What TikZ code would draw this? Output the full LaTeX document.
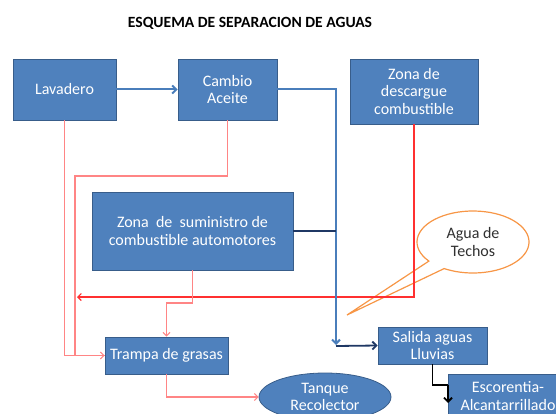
\documentclass[tikz,border=0pt]{standalone}
\usepackage{fontspec}
\setmainfont{Carlito}
\usetikzlibrary{arrows.meta,shapes.geometric,calc}
\definecolor{boxfill}{HTML}{4F81BD}
\definecolor{boxline}{HTML}{385D8A}
\definecolor{flowblue}{HTML}{4A7EBB}
\definecolor{navyline}{HTML}{1F3864}
\definecolor{lightred}{HTML}{FF8585}
\definecolor{brightred}{HTML}{FF3030}
\definecolor{calloutorange}{HTML}{F79646}
\definecolor{txtgray}{HTML}{303030}
\begin{document}
\begin{tikzpicture}[x=1pt,y=-1pt,
  box/.style={draw=boxline, line width=0.8pt, fill=boxfill, text=white,
    font=\fontsize{16}{17.5}\selectfont, align=center, inner sep=0pt},
  redflow/.style={draw=lightred, line width=1.1pt},
  redstrong/.style={draw=brightred, line width=1.1pt},
  blueflow/.style={draw=flowblue, line width=2pt},
  navyflow/.style={draw=navyline, line width=1.8pt},
  blackflow/.style={draw=black, line width=1.8pt},
  thintip/.style={-{Straight Barb[length=3.5pt,width=7pt]}},
  thicktip/.style={-{Straight Barb[length=4pt,width=8pt]}}
]
\useasboundingbox (0,0) rectangle (556,414);
\clip (0,0) rectangle (556,414);

\node[font=\bfseries\fontsize{15.6}{18}\selectfont] (title) at (250,23) {ESQUEMA DE SEPARACION DE AGUAS};

\node[box, minimum width=103pt, minimum height=61pt] (lav) at (64.5,89.5) {Lavadero};
\node[box, minimum width=99pt, minimum height=61pt] (cambio) at (227.5,89.5) {Cambio\\Aceite};
\node[box, minimum width=128pt, minimum height=65pt] (desc) at (414,91.5) {Zona de\\descargue\\combustible};
\node[box, minimum width=201pt, minimum height=78pt] (sum) at (192.5,231) {Zona~ de~ suministro de\\combustible automotores};
\node[box, minimum width=123pt, minimum height=37pt] (trampa) at (166.5,355.5) {Trampa de grasas};
\node[box, minimum width=109pt, minimum height=37pt] (salida) at (432.5,345.5) {Salida aguas\\Lluvias};
\node[box, minimum width=120pt, minimum height=44pt] (esc) at (508,396) {Escorentia-\\Alcantarrillado};
\node[box, ellipse, minimum width=132pt, minimum height=48pt] (tanque) at (325,397) {Tanque\\Recolector};

% callout
\draw[draw=calloutorange, line width=1.2pt, fill=white]
  (347,315) -- ($(473,242)+(142:56 and 31)$) arc[start angle=142, end angle=481, x radius=56, y radius=31] -- cycle;
\node[text=txtgray, font=\fontsize{16}{17.5}\selectfont, align=center] (techos) at (473,242) {Agua de\\Techos};

% coordinates for bends
\coordinate (c1) at (75,176);
\coordinate (c2) at (77,297);
\coordinate (s1) at (166.5,303);
\coordinate (b1) at (336,345);
\coordinate (b2) at (336,346);
\coordinate (k1) at (448,385);
\coordinate (k2) at (448,403);

% red flows
\draw[redflow, thintip] (lav.south) |- (trampa.west);
\draw[redflow] (cambio.south) |- (c1) |- (trampa.west);
\draw[redstrong, thintip] (desc.south) |- (c2);
\draw[redflow, thintip] (sum.south) |- (s1) -- (trampa.north);
\draw[redflow, thintip] (trampa.south) |- (tanque.west);

% blue flows
\draw[blueflow, thicktip] (lav.east) -- (cambio.west);
\draw[blueflow, thicktip] (cambio.east) -| (b1);
\draw[navyflow] (sum.east) -- (sum.east -| b1);
\draw[navyflow, thicktip] (b2) -- (salida.west);
\draw[blackflow] (salida.south) |- (k1);
\draw[blackflow, thicktip] (k1) -- (k2);
\end{tikzpicture}
\end{document}
